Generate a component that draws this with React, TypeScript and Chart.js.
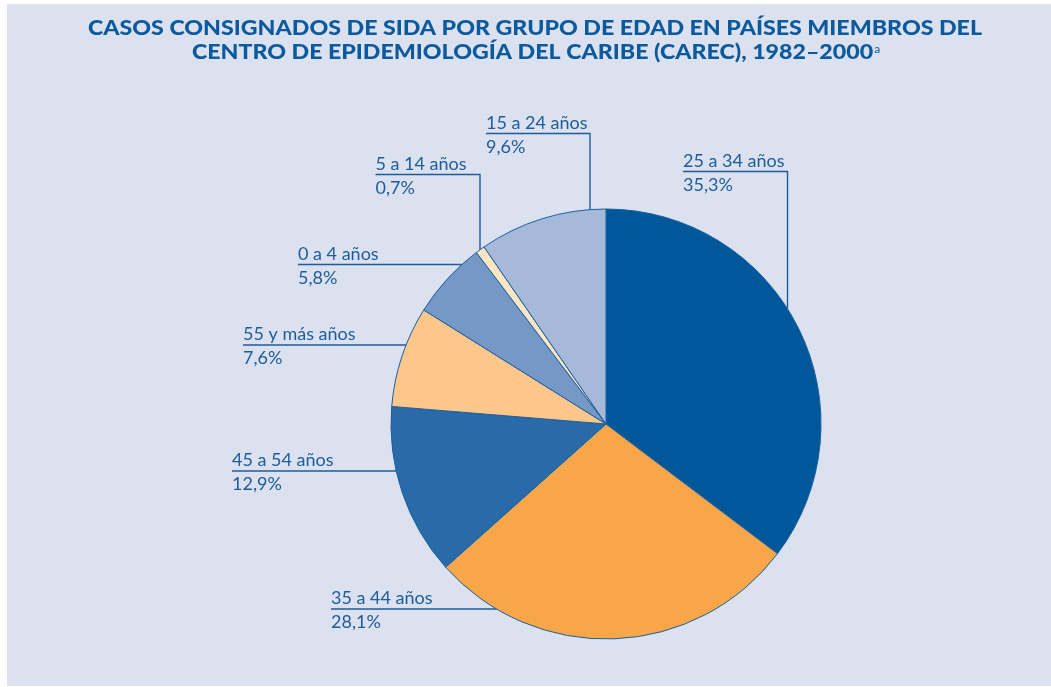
import React, { useEffect, useRef } from "react";
import { Chart, registerables } from "chart.js";

Chart.register(...registerables);

const categories = [
  "25 a 34 años",
  "35 a 44 años",
  "45 a 54 años",
  "55 y más años",
  "0 a 4 años",
  "5 a 14 años",
  "15 a 24 años",
];
const percentages = [35.3, 28.1, 12.9, 7.6, 5.8, 0.7, 9.6];
const percentLabels = ["35,3%", "28,1%", "12,9%", "7,6%", "5,8%", "0,7%", "9,6%"];
const sliceColors = ["#00579a", "#f8a64a", "#286ba8", "#fdc68a", "#7698c6", "#fde6c4", "#a6b9d8"];

const titleLine1 = "CASOS CONSIGNADOS DE SIDA POR GRUPO DE EDAD EN PAÍSES MIEMBROS DEL";
const titleLine2 = "CENTRO DE EPIDEMIOLOGÍA DEL CARIBE (CAREC), 1982–2000";
const titleNote = "a";

// label layout (canvas coords): text left, underline y, optional vertical leader x
const labelLayout = [
  { x: 676, y: 167.5, vx: 780.5 },
  { x: 324, y: 605 },
  { x: 225, y: 467 },
  { x: 236, y: 341 },
  { x: 291, y: 260.5 },
  { x: 368.5, y: 170.5, vx: 473 },
  { x: 479, y: 129.5, vx: 583 },
];

const TEXT = "#1d5c9c";
const TITLE = "#0b5a9e";
const W = 1044;
const H = 682;

const labelsPlugin = {
  id: "pieLabels",
  afterDraw(chart: any) {
    const ctx = chart.ctx;
    const arc = chart.getDatasetMeta(0).data[0] as any;
    const cx = arc.x;
    const cy = arc.y;
    const r = arc.outerRadius;
    ctx.save();
    // title
    ctx.fillStyle = TITLE;
    ctx.textBaseline = "alphabetic";
    ctx.textAlign = "left";
    const TF = "900 20px Lato";
    ctx.font = TF;
    const w1 = ctx.measureText(titleLine1).width;
    const sx = 894 / w1;
    const drawScaled = (t: string, x: number, y: number) => {
      ctx.save();
      ctx.translate(x, y);
      ctx.scale(sx, 1);
      ctx.fillText(t, 0, 0);
      ctx.restore();
    };
    drawScaled(titleLine1, 81, 31);
    const w2 = ctx.measureText(titleLine2).width * sx;
    ctx.font = "12px Lato";
    const wn = ctx.measureText(titleNote).width;
    const total2 = w2 + 1 + wn;
    const x2 = 529 - total2 / 2;
    ctx.font = TF;
    drawScaled(titleLine2, x2, 54.5);
    ctx.font = "12px Lato";
    ctx.fillText(titleNote, x2 + w2 + 1, 49);

    // labels
    ctx.strokeStyle = TEXT;
    ctx.lineWidth = 1.4;
    ctx.font = "18px Lato";
    categories.forEach((cat, i) => {
      const L: any = labelLayout[i];
      ctx.fillStyle = TEXT;
      ctx.fillText(cat, L.x, L.y - 5);
      ctx.fillText(percentLabels[i], L.x, L.y + 19);
      ctx.beginPath();
      if (L.vx !== undefined) {
        const ey = cy - Math.sqrt(Math.max(r * r - (L.vx - cx) * (L.vx - cx), 0));
        ctx.moveTo(L.x, L.y);
        ctx.lineTo(L.vx, L.y);
        ctx.lineTo(L.vx, ey);
      } else {
        const ex = cx - Math.sqrt(Math.max(r * r - (L.y - cy) * (L.y - cy), 0));
        ctx.moveTo(L.x, L.y);
        ctx.lineTo(ex, L.y);
      }
      ctx.stroke();
    });
    ctx.restore();
  },
};

export default function App() {
  const ref = useRef<HTMLCanvasElement>(null);
  useEffect(() => {
    if (!ref.current) return;
    const chart = new Chart(ref.current, {
      type: "pie",
      data: {
        labels: categories,
        datasets: [
          {
            data: percentages,
            backgroundColor: sliceColors,
            borderColor: "#1b5e9f",
            borderWidth: 1,
          },
        ],
      },
      options: {
        animation: false,
        responsive: false,
        radius: 215,
        layout: { padding: { left: 154, right: 0, top: 158, bottom: 0 } },
        plugins: {
          legend: { display: false },
          tooltip: { enabled: false },
          title: { display: false },
        },
      } as any,
      plugins: [labelsPlugin],
    });
    return () => chart.destroy();
  }, []);
  return (
    <div
      style={{
        position: "absolute",
        left: 7,
        top: 4,
        width: W,
        height: H,
        background: "#dbe1ee",
      }}
    >
      <canvas ref={ref} width={W} height={H} style={{ display: "block" }} />
    </div>
  );
}
